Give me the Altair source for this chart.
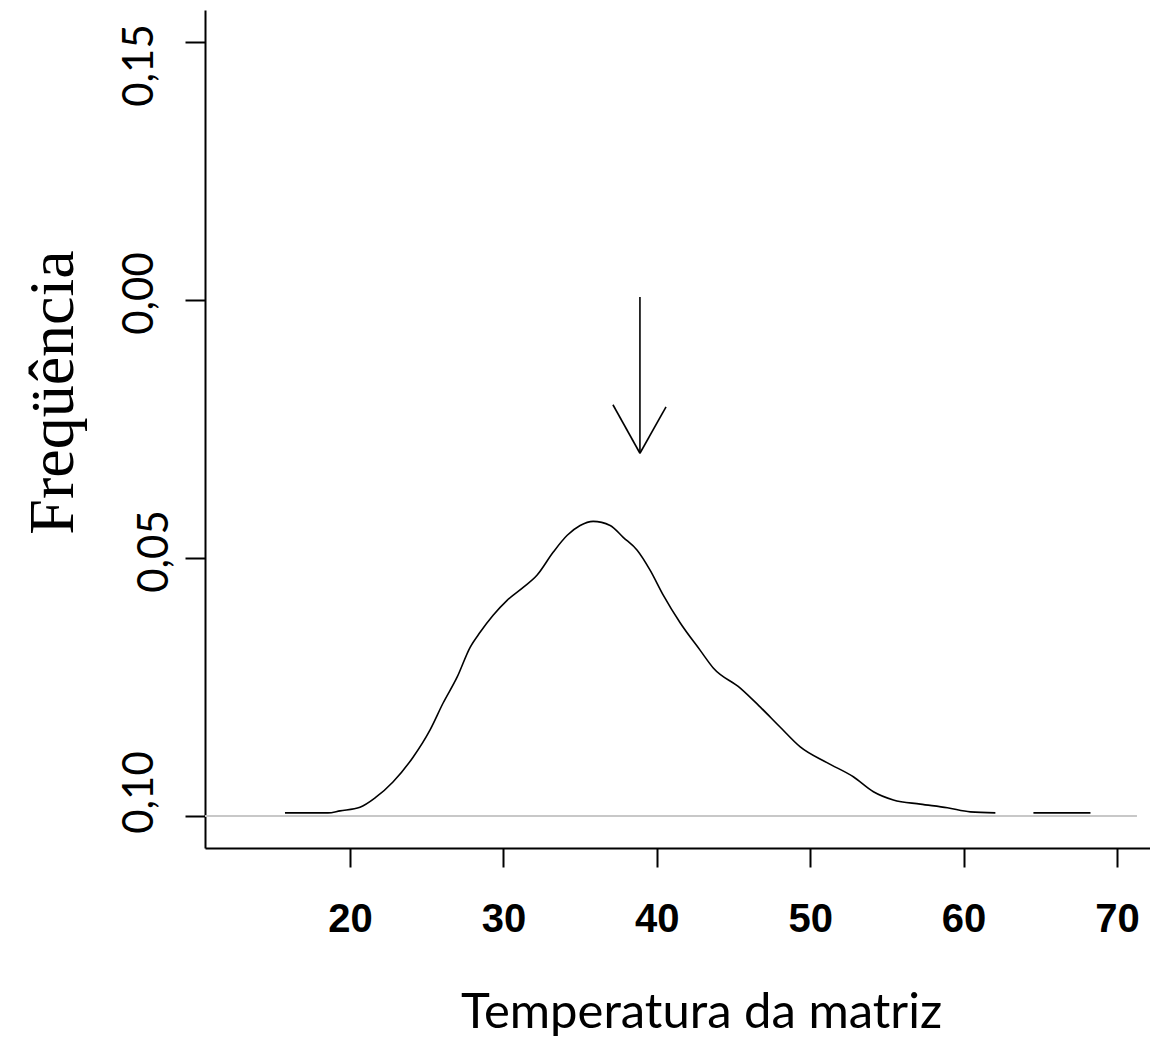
import altair as alt
import pandas as pd

# Density curve (x = temperature, y = density)
curve_x = [15.76, 18.56, 19.35, 20.65, 21.63, 22.80, 24.11, 25.22, 26.07, 26.98,
           27.83, 28.48, 29.33, 30.24, 31.29, 32.20, 33.24, 34.16, 35.00, 35.85,
           36.96, 37.81, 38.72, 39.57, 40.42, 41.53, 42.83, 43.68, 45.44, 46.75,
           48.05, 49.35, 51.12, 52.81, 54.12, 55.42, 57.18, 58.94, 60.44, 62.07]
curve_y = [0.0006, 0.0006, 0.0010, 0.0017, 0.0035, 0.0066, 0.0114, 0.0167, 0.0219, 0.0269,
           0.0327, 0.0356, 0.0389, 0.0418, 0.0443, 0.0467, 0.0511, 0.0544, 0.0563, 0.0571,
           0.0563, 0.0540, 0.0515, 0.0476, 0.0428, 0.0374, 0.0321, 0.0287, 0.0248, 0.0211,
           0.0172, 0.0134, 0.0103, 0.0076, 0.0047, 0.0031, 0.0023, 0.0016, 0.0008, 0.0006]
tail_x = [64.55, 68.27]
tail_y = [0.0006, 0.0006]

# Grey zero line
baseline_x = [10.55, 71.3]
baseline_y = [0.0, 0.0]

# Arrow (shaft and two head strokes): start/end points
arrow_x1 = [38.9, 37.14, 40.6]
arrow_y1 = [0.1006, 0.0797, 0.0793]
arrow_x2 = [38.9, 38.9, 38.9]
arrow_y2 = [0.0703, 0.0703, 0.0703]

x_ticks = [20, 30, 40, 50, 60, 70]
y_tick_values = [0.0, 0.05, 0.10, 0.15]
y_tick_labels = ["0,10", "0,05", "0,00", "0,15"]

x_title = "Temperatura da matriz"
y_title = "Freqüência"

x_domain = [10.547, 72.15]
y_domain = [-0.0062, 0.1562]

curve_df = pd.DataFrame({
    "x": curve_x + tail_x,
    "y": curve_y + tail_y,
    "seg": ["a"] * len(curve_x) + ["b"] * len(tail_x),
})
base_df = pd.DataFrame({"x": baseline_x, "y": baseline_y})
arrow_df = pd.DataFrame({"x": arrow_x1, "y": arrow_y1, "x2": arrow_x2, "y2": arrow_y2})

label_expr = " : ".join(
    [f"abs(datum.value - {v}) < 0.001 ? '{t}'" for v, t in zip(y_tick_values, y_tick_labels)]
) + " : ''"

xscale = alt.Scale(domain=x_domain, nice=False, zero=False)
yscale = alt.Scale(domain=y_domain, nice=False, zero=False)

x_axis = alt.Axis(
    values=x_ticks, grid=False, domainColor="black", domainWidth=2,
    tickColor="black", tickWidth=2, tickSize=19,
    labelFont="Liberation Sans", labelFontWeight="bold", labelFontSize=40,
    labelColor="black", labelPadding=32, labelFlush=False,
    title=x_title, titleFont="Lato", titleFontSize=49, titleFontWeight="normal",
    titleColor="black", titleX=496, titleY=179, titleAnchor="middle",
    titleAlign="center", titleBaseline="alphabetic",
)
y_axis = alt.Axis(
    values=y_tick_values, grid=False, domainColor="black", domainWidth=2,
    tickColor="black", tickWidth=2, tickSize=20,
    labelExpr=label_expr, labelAngle=270, labelAlign="center",
    labelBaseline="alphabetic", labelFont="Lato", labelFontSize=42,
    labelColor="black", labelFlush=False, labelOverlap=False,
    labelOffset={"condition": [{"test": "datum.value > 0.12", "value": 23},
                               {"test": "datum.value < 0.02", "value": -24}],
                 "value": -7},
    labelPadding={"condition": {"test": "datum.value > 0.03 && datum.value < 0.07", "value": 18},
                  "value": 33},
    title=y_title, titleFont="Liberation Serif", titleFontSize=64,
    titleFontWeight="normal", titleColor="black", titleAngle=270,
    titleX=-133, titleY=382, titleAlign="center", titleBaseline="alphabetic",
)

base = alt.Chart(base_df).mark_line(color="#c8c8c8", strokeWidth=2).encode(
    x=alt.X("x:Q", scale=xscale, axis=x_axis),
    y=alt.Y("y:Q", scale=yscale, axis=y_axis),
)

curve = alt.Chart(curve_df).mark_line(color="black", strokeWidth=1.6,
                                      interpolate="monotone").encode(
    x=alt.X("x:Q", scale=xscale),
    y=alt.Y("y:Q", scale=yscale),
    detail="seg:N",
)

arrow = alt.Chart(arrow_df).mark_rule(color="black", strokeWidth=1.6).encode(
    x=alt.X("x:Q", scale=xscale),
    y=alt.Y("y:Q", scale=yscale),
    x2="x2:Q",
    y2="y2:Q",
)

chart = alt.layer(base, curve, arrow).properties(
    width=945, height=838,
    autosize=alt.AutoSizeParams(type="none"),
    padding={"left": 197, "top": 2, "right": 0, "bottom": 191},
    background="white",
).configure_view(stroke=None)

chart.save("out.html", embed_options={"renderer": "svg", "actions": False})
